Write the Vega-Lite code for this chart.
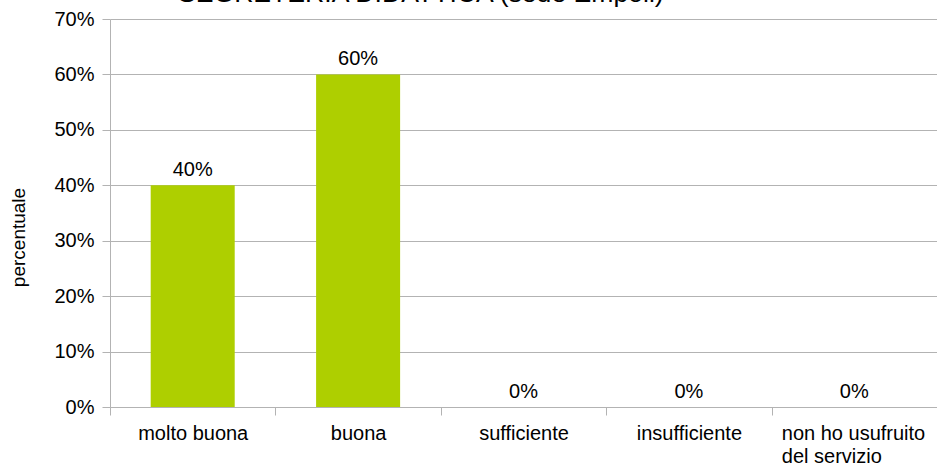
{
  "$schema": "https://vega.github.io/schema/vega-lite/v6.json",
  "width": 827,
  "height": 388,
  "autosize": {"type": "none"},
  "padding": {"left": 110, "top": 19, "right": 0, "bottom": 61},
  "background": "white",
  "config": {
    "font": "Liberation Sans",
    "view": {"stroke": null}
  },
  "title": {
    "text": "SEGRETERIA DIDATTICA (sede Empoli)",
    "anchor": "start",
    "frame": "group",
    "dx": 68,
    "dy": 24,
    "offset": 4,
    "baseline": "alphabetic",
    "fontSize": 26.6,
    "fontWeight": "normal",
    "color": "#000000",
    "font": "Liberation Sans"
  },
  "data": {
    "values": [
      {"cat": "molto buona", "val": 0.4, "lab": "40%"},
      {"cat": "buona", "val": 0.6, "lab": "60%"},
      {"cat": "sufficiente", "val": 0, "lab": "0%"},
      {"cat": "insufficiente", "val": 0, "lab": "0%"},
      {"cat": "non ho usufruito del servizio", "val": 0, "lab": "0%"}
    ]
  },
  "encoding": {
    "x": {
      "field": "cat",
      "type": "nominal",
      "sort": null,
      "scale": {"paddingInner": 0, "paddingOuter": 0},
      "axis": {
        "title": null,
        "labelAngle": 0,
        "labelFontSize": 20,
        "labelColor": "#000000",
        "labelPadding": 8,
        "labelOverlap": false,
        "labelBound": false,
        "labelFlush": false,
        "labelAlign": {"condition": {"test": "datum.value == 'non ho usufruito del servizio'", "value": "left"}, "value": "center"},
        "labelOffset": {"condition": {"test": "datum.value == 'non ho usufruito del servizio'", "value": -73}, "value": 0},
        "tickBand": "extent",
        "tickSize": 8,
        "tickColor": "#b3b3b3",
        "domainColor": "#b3b3b3",
        "labelExpr": "datum.value == 'non ho usufruito del servizio' ? ['non ho usufruito', 'del servizio'] : datum.value",
        "labelLineHeight": 23,
        "labelBaseline": "top",
        "grid": false
      }
    },
    "y": {
      "field": "val",
      "type": "quantitative",
      "scale": {"domain": [0, 0.7]},
      "axis": {
        "title": "percentuale",
        "titleFontSize": 19,
        "titleFontWeight": "normal",
        "titleColor": "#000000",
        "titleAngle": -90,
        "titleAlign": "center",
        "titleBaseline": "alphabetic",
        "titleX": -86,
        "titleY": 218,
        "format": ".0%",
        "values": [0, 0.1, 0.2, 0.3, 0.4, 0.5, 0.6, 0.7],
        "labelFontSize": 20,
        "labelColor": "#000000",
        "labelPadding": 8,
        "labelOverlap": false,
        "labelFlush": false,
        "tickSize": 8,
        "tickColor": "#b3b3b3",
        "domainColor": "#b3b3b3",
        "gridColor": "#b3b3b3",
        "grid": true
      }
    }
  },
  "layer": [
    {
      "mark": {"type": "bar", "color": "#aecf00", "width": {"band": 0.508}}
    },
    {
      "mark": {"type": "text", "baseline": "alphabetic", "dy": -9, "fontSize": 20, "color": "#000000"},
      "encoding": {"text": {"field": "lab"}}
    }
  ]
}
